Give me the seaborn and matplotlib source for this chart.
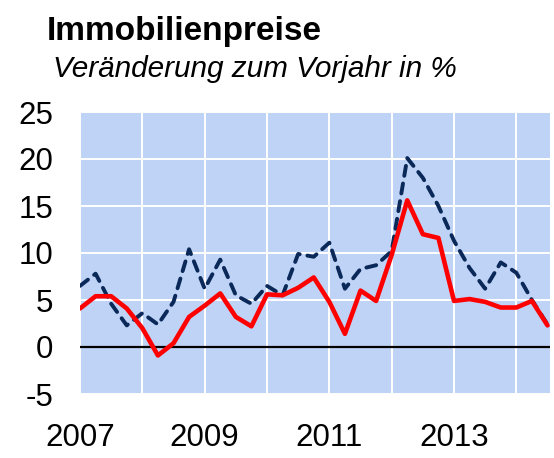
import numpy as np
import pandas as pd
import matplotlib
matplotlib.use("Agg")
import matplotlib.pyplot as plt
import seaborn as sns

# Quartalswerte, Veränderung zum Vorjahr in %
quarters = np.arange(2007.0, 2014.51, 0.25)
solid_vals = [4.1, 5.4, 5.4, 4.1, 2.0, -0.9, 0.4, 3.2,
              4.4, 5.7, 3.2, 2.2, 5.6, 5.5, 6.3, 7.4,
              4.8, 1.4, 6.0, 4.9, 9.8, 15.6, 12.0, 11.6,
              4.9, 5.1, 4.8, 4.2, 4.2, 4.9, 2.3]
dashed_vals = [6.5, 7.8, 4.6, 2.3, 3.6, 2.4, 4.8, 10.4,
               6.2, 9.3, 5.5, 4.6, 6.5, 5.5, 9.9, 9.6,
               11.1, 6.2, 8.3, 8.7, 10.2, 20.1, 18.0, 15.0,
               11.3, 8.4, 6.2, 9.0, 7.9, 5.0, 2.4]
year_ticks = [2007, 2008, 2009, 2010, 2011, 2012, 2013, 2014]
year_labels = ["2007", "", "2009", "", "2011", "", "2013", ""]
y_ticks = [-5, 0, 5, 10, 15, 20, 25]

df = pd.DataFrame({"Quartal": quarters, "solid": solid_vals, "dashed": dashed_vals})

sns.set_theme(style="white")
plt.rcParams["font.family"] = ["Liberation Sans", "DejaVu Sans"]
plt.rcParams["text.color"] = "black"

fig = plt.figure(figsize=(5.54, 4.58), dpi=100)
ax = fig.add_axes([80 / 554, 1 - 394 / 458, 470 / 554, 282 / 458])
ax.set_facecolor("#BFD3F7")

sns.lineplot(data=df, x="Quartal", y="dashed", ax=ax, color="#0A2858",
             linewidth=2.8, zorder=3)
dash_line = ax.lines[-1]
dash_line.set_dashes([2.6, 2.0])
dash_line.set_dash_capstyle("round")
sns.lineplot(data=df, x="Quartal", y="solid", ax=ax, color="#FF0000",
             linewidth=3.3, zorder=4)
ax.axhline(0, color="black", linewidth=1.6, zorder=2)

ax.set_xlim(2007.0, 2014.54)
ax.set_ylim(-5, 25)
ax.set_xticks(year_ticks)
ax.set_xticklabels(year_labels)
ax.set_yticks(y_ticks)
ax.set_yticklabels([str(v) for v in y_ticks])
ax.grid(True, color="white", linewidth=1.4)
ax.set_axisbelow(True)
for s in ax.spines.values():
    s.set_visible(False)
ax.tick_params(axis="both", length=0, labelsize=22.5, colors="black")
ax.tick_params(axis="y", pad=19.5)
ax.tick_params(axis="x", pad=21)
ax.set_xlabel("")
ax.set_ylabel("")

fig.text(47 / 554, 1 - 40 / 458, "Immobilienpreise", fontsize=24,
         fontweight="bold", ha="left", va="baseline", color="black")
fig.text(53 / 554, 1 - 77 / 458, "Veränderung zum Vorjahr in %", fontsize=21.4,
         fontstyle="italic", ha="left", va="baseline", color="black")

fig.savefig("out.png", dpi=100)
